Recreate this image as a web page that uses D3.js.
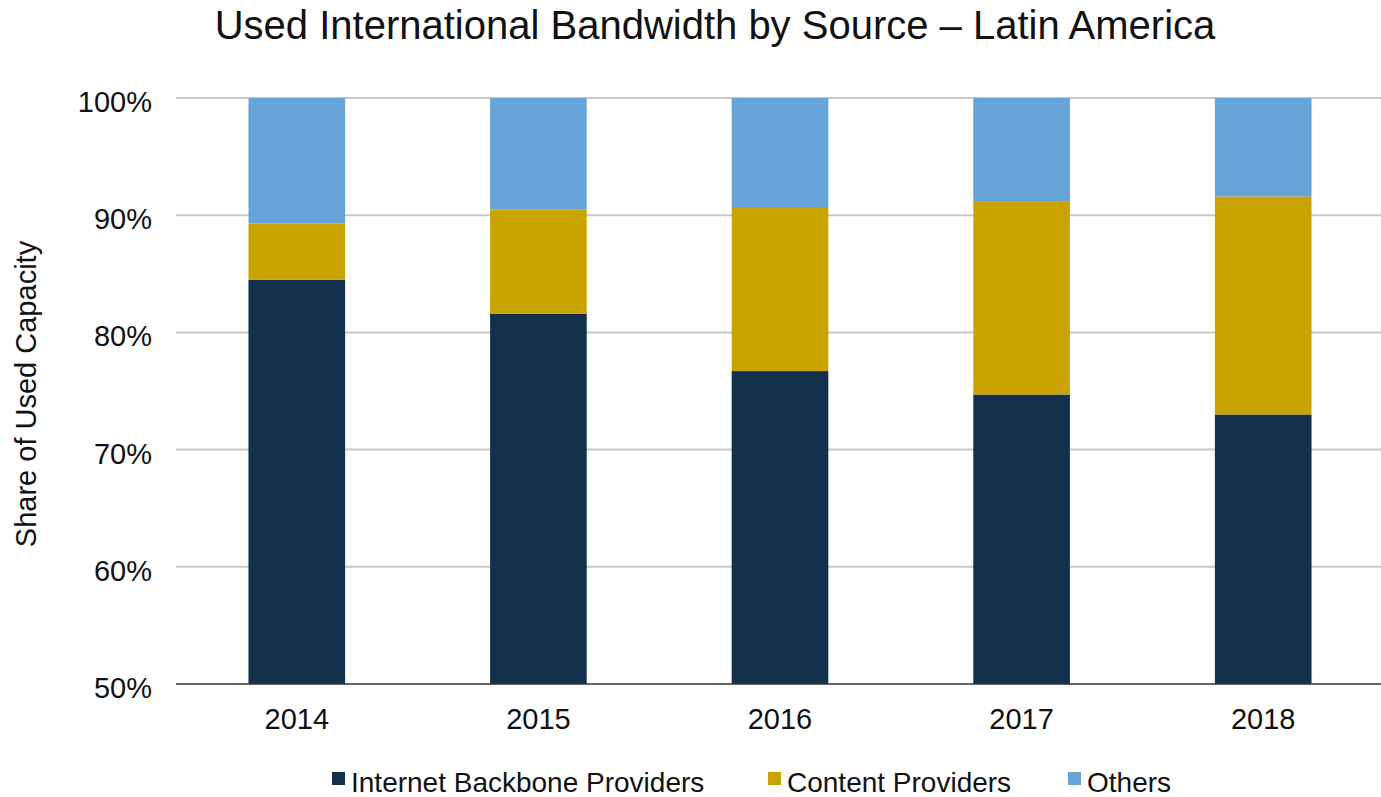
<!DOCTYPE html>
<html>
<head>
<meta charset="utf-8">
<script src="https://cdn.jsdelivr.net/npm/d3@7"></script>
<style>
  body { margin: 0; background: #fff; }
  text { font-family: "Liberation Sans", Arial, Helvetica, sans-serif; fill: #111; }
</style>
</head>
<body>
<div id="chart"></div>
<script>
const years = ['2014', '2015', '2016', '2017', '2018'];
const seriesNames = ['Internet Backbone Providers', 'Content Providers', 'Others'];
// share of used capacity, %
const backbone = [84.5, 81.6, 76.7, 74.7, 73.0];
const content  = [4.8, 8.9, 14.0, 16.5, 18.6];
const others   = [10.7, 9.5, 9.3, 8.8, 8.4];
const yTicks = [50, 60, 70, 80, 90, 100];
const colors = ['#13304d', '#c9a400', '#66a3d6'];

const width = 1381, height = 797;
const margin = {top: 98, right: -3, bottom: 113, left: 176};

const svg = d3.select('#chart').append('svg')
    .attr('width', width)
    .attr('height', height);

const x = d3.scaleBand()
    .domain(years)
    .range([margin.left, width - margin.right])
    .paddingInner(0.6)
    .paddingOuter(0.3);

const y = d3.scaleLinear()
    .domain([50, 100])
    .range([height - margin.bottom, margin.top]);

// gridlines
svg.append('g')
    .selectAll('line')
    .data(yTicks.slice(1))
    .enter().append('line')
    .attr('x1', margin.left)
    .attr('x2', width)
    .attr('y1', d => y(d))
    .attr('y2', d => y(d))
    .attr('stroke', '#c8c8c8')
    .attr('stroke-width', 2);

const rows = years.map((yr, i) => ({
  year: yr,
  'Internet Backbone Providers': backbone[i],
  'Content Providers': content[i],
  'Others': others[i]
}));

const stacked = d3.stack().keys(seriesNames)(rows);

svg.append('g')
    .selectAll('g')
    .data(stacked)
    .enter().append('g')
    .attr('fill', (d, i) => colors[i])
    .selectAll('rect')
    .data(d => d)
    .enter().append('rect')
    .attr('x', d => x(d.data.year))
    .attr('width', x.bandwidth())
    .attr('y', d => y(Math.min(d[1], 100)))
    .attr('height', d => y(Math.max(d[0], 50)) - y(Math.min(d[1], 100)));

// baseline axis
svg.append('line')
    .attr('x1', margin.left)
    .attr('x2', width)
    .attr('y1', y(50))
    .attr('y2', y(50))
    .attr('stroke', '#333')
    .attr('stroke-width', 1.5);

// y tick labels
svg.append('g')
    .selectAll('text')
    .data(yTicks)
    .enter().append('text')
    .attr('x', 152)
    .attr('y', d => y(d) + 14)
    .attr('text-anchor', 'end')
    .style('font-size', '29px')
    .text(d => d + '%');

// x labels
svg.append('g')
    .selectAll('text')
    .data(years)
    .enter().append('text')
    .attr('x', d => x(d) + x.bandwidth() / 2)
    .attr('y', 729)
    .attr('text-anchor', 'middle')
    .style('font-size', '29px')
    .text(d => d);

// y axis title
svg.append('text')
    .attr('transform', 'translate(36,394) rotate(-90)')
    .attr('text-anchor', 'middle')
    .style('font-size', '29px')
    .text('Share of Used Capacity');

// title
svg.append('text')
    .attr('x', 715)
    .attr('y', 39)
    .attr('text-anchor', 'middle')
    .style('font-size', '40px')
    .text('Used International Bandwidth by Source \u2013 Latin America');

// legend
const legendX = [332, 768, 1068];
const legend = svg.append('g')
    .selectAll('g')
    .data(seriesNames)
    .enter().append('g')
    .attr('transform', (d, i) => 'translate(' + legendX[i] + ',0)');

legend.append('rect')
    .attr('x', 0)
    .attr('y', 772)
    .attr('width', 13)
    .attr('height', 13)
    .attr('fill', (d, i) => colors[i]);

legend.append('text')
    .attr('x', 19)
    .attr('y', 792)
    .style('font-size', '28px')
    .text(d => d);
</script>
</body>
</html>
